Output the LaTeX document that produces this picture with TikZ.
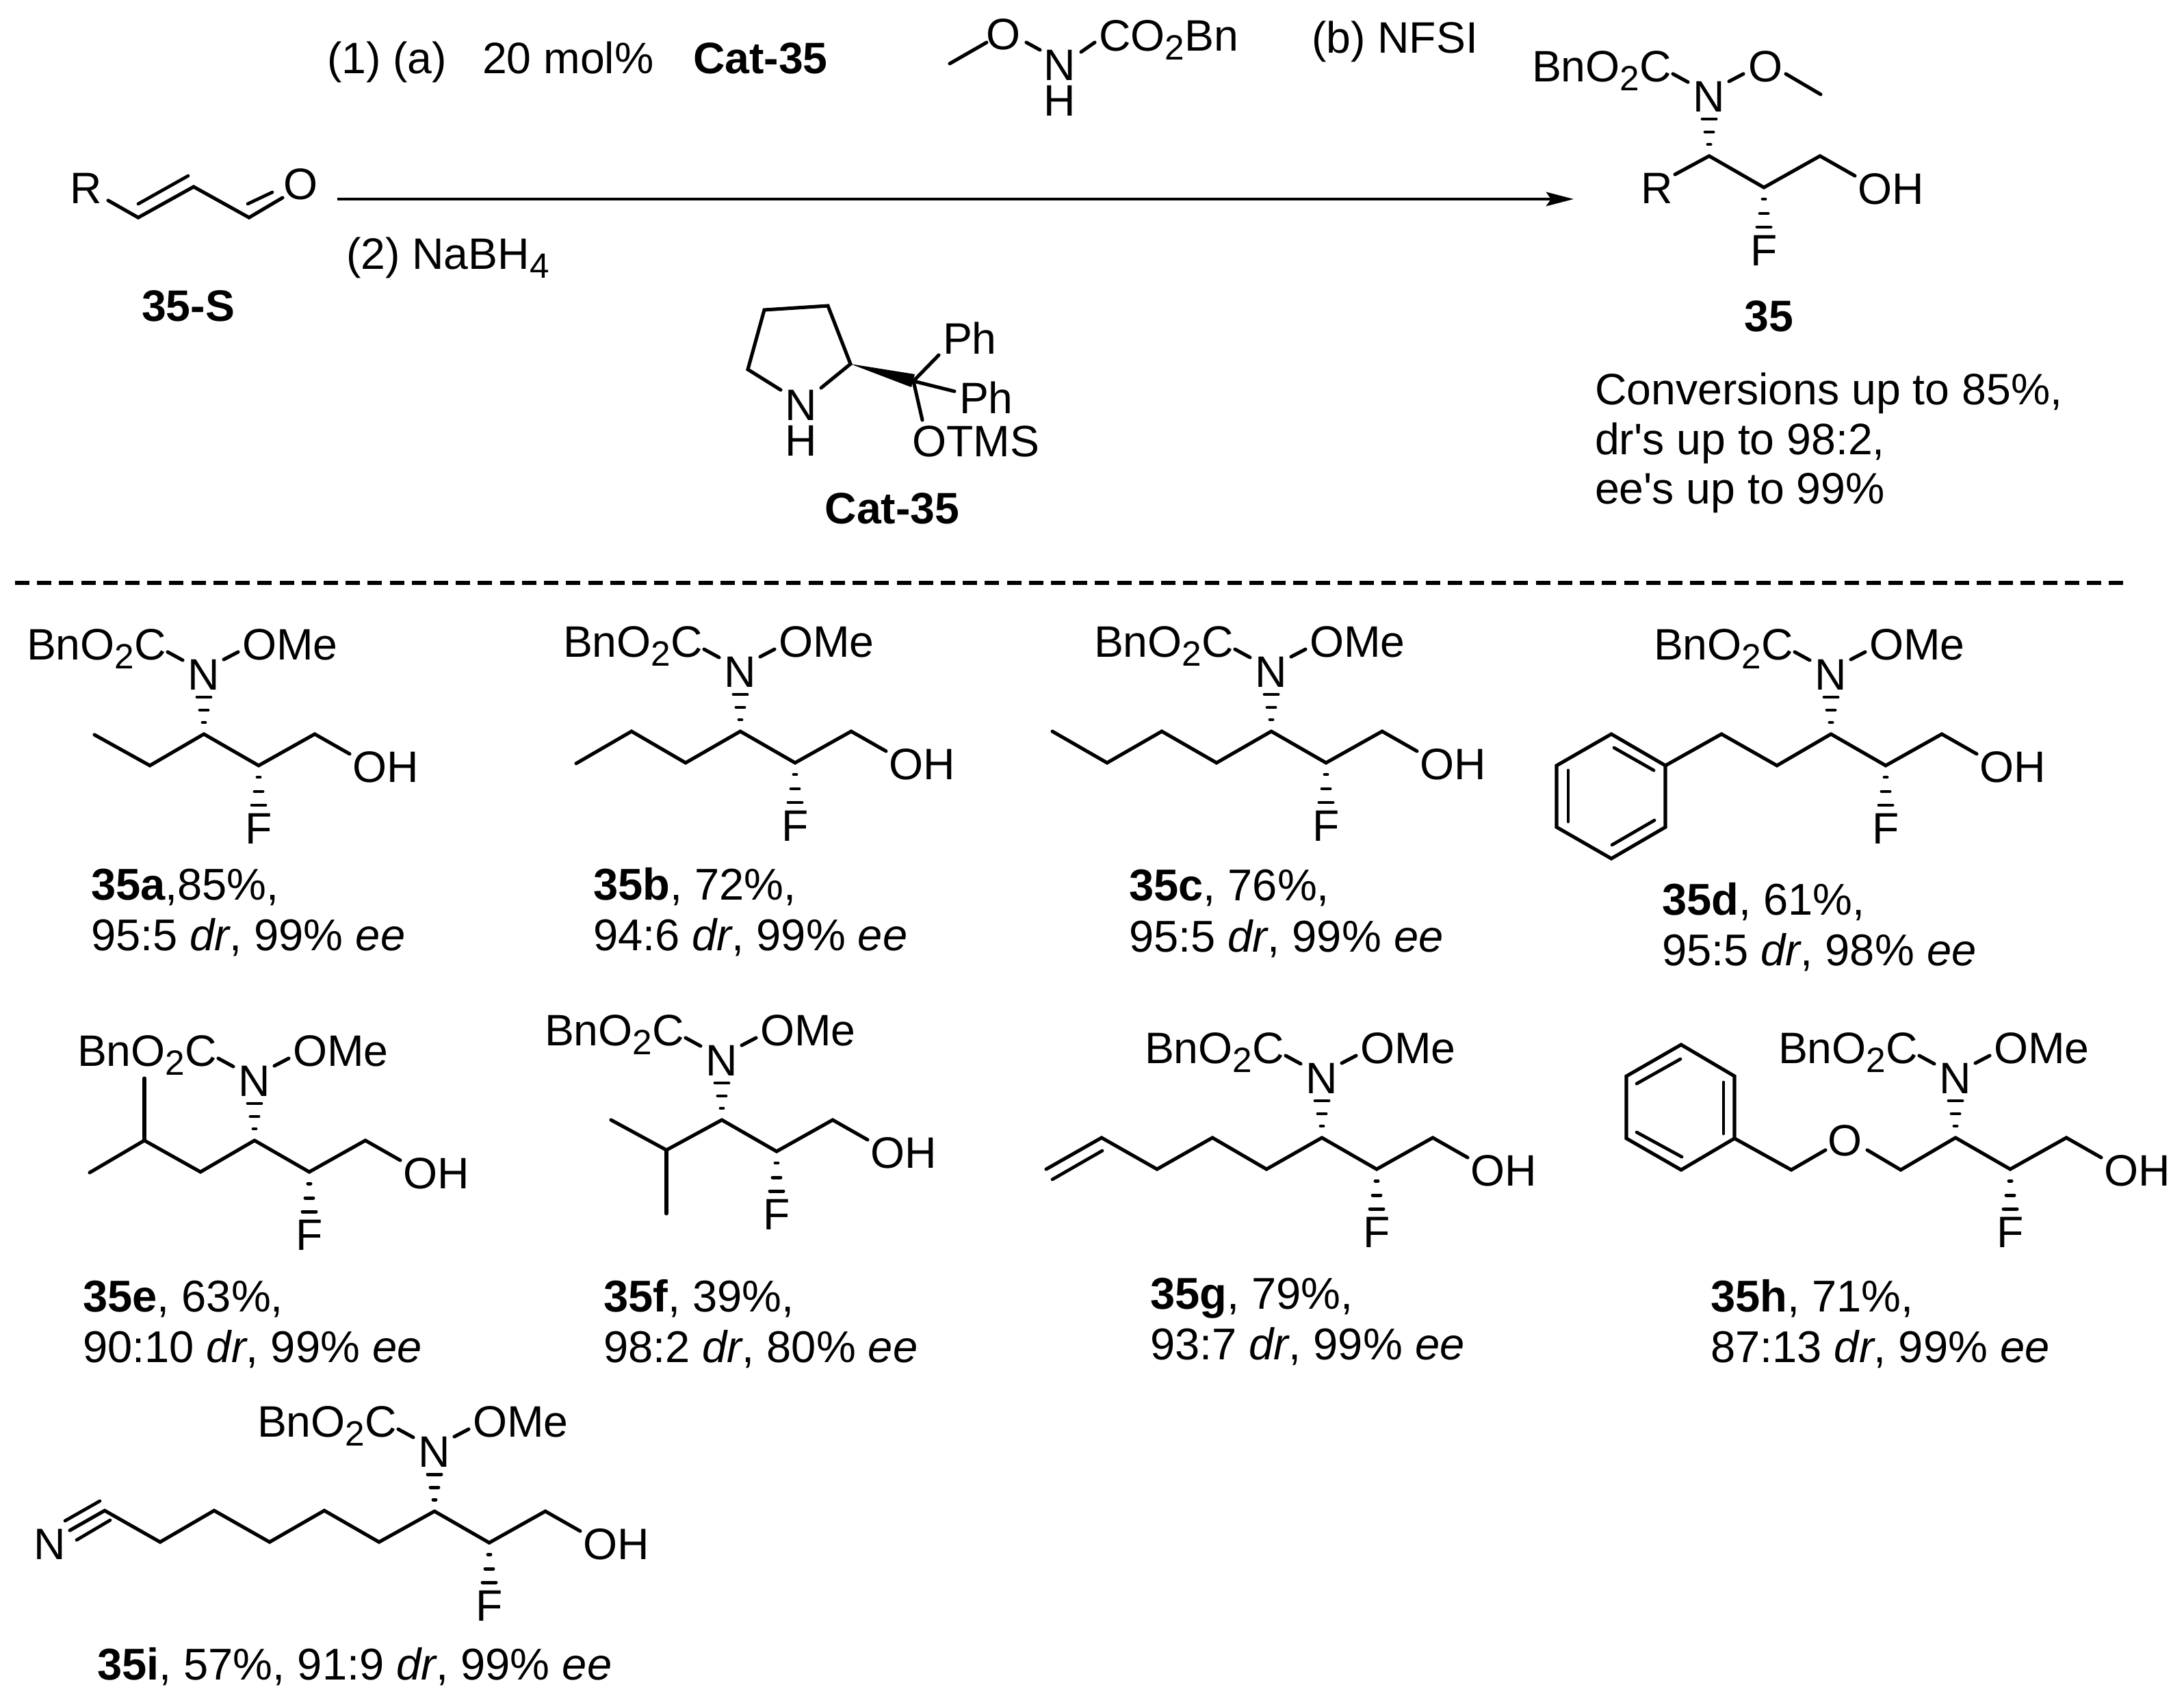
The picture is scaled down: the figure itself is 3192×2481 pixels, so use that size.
\documentclass[tikz,border=0pt]{standalone}
\usepackage{fontspec}
\setmainfont{Liberation Sans}
\newfontfamily\aposfont{Liberation Sans}
\usetikzlibrary{arrows.meta}
\newcommand{\subtwo}{\raisebox{-3.8pt}{\fontsize{14.6}{15}\selectfont 2}}
\newcommand{\apos}{{\aposfont '}}
\tikzset{
  bond/.style={draw=black,line width=1.45pt,line join=miter,line cap=round},
  inner/.style={draw=black,line width=1.35pt,line cap=round},
  lab/.style={font=\fontsize{18.3}{21}\selectfont,inner sep=0pt,outer sep=0pt,anchor=base west,text=black},
  atom/.style={font=\fontsize{18.3}{21}\selectfont,inner sep=0pt,outer sep=0pt,anchor=base,text=black},
  capt/.style={font=\fontsize{18.5}{21}\selectfont,inner sep=0pt,outer sep=0pt,anchor=base west,text=black},
  rung/.style={draw=black,line width=1.4pt,line cap=round}
}
% #1 prefix, #2 N x, #3 N y : the part common to every product
\newcommand{\backbone}[3]{%
  \begin{scope}[shift={(#2,#3)}]
    \node[atom] (#1N) at (0,22) {N};
    \node[lab] (#1bn) at (-259,-22) {BnO\subtwo C};
    \node[lab] (#1oh) at (217,157) {OH};
    \node[atom] (#1F) at (80,247) {F};
    \coordinate (#1cn) at (0,87);
    \coordinate (#1cf) at (80,133);
    \coordinate (#1ch) at (162,87);
    \coordinate (#1oe) at (213,116);
    \coordinate (#1a) at (-53,-33);
    \coordinate (#1b) at (-31,-21);
    \draw[bond] (#1a) -- (#1b);
    \draw[bond] (#1cn) -- (#1cf) -- (#1ch) -- (#1oe);
    \draw[rung] (-2,70) -- (2,70);
    \draw[rung] (-6,52) -- (6,52);
    \draw[rung] (-10,33) -- (10,33);
    \draw[rung] (78,150) -- (82,150);
    \draw[rung] (74,171) -- (86,171);
    \draw[rung] (70,191) -- (90,191);
  \end{scope}}
% adds the OMe group
\newcommand{\ome}[3]{%
  \begin{scope}[shift={(#2,#3)}]
    \node[lab] (#1om) at (56,-22) {OMe};
    \coordinate (#1c) at (29,-22);
    \coordinate (#1d) at (50,-33);
    \draw[bond] (#1c) -- (#1d);
  \end{scope}}
\begin{document}
\begin{tikzpicture}[x=0.01cm,y=-0.01cm]
\useasboundingbox (0,0) rectangle (3192,2481);

% ---- reaction conditions
\node[lab] (t1) at (478,107) {(1) (a)};
\node[lab] (t2) at (705,107) {20 mol\%};
\node[lab] (t3) at (1013,107) {\textbf{Cat-35}};
\node[lab] (t4) at (1917,77) {(b) NFSI};
\node[lab] (t5) at (506,393) {(2) NaBH\raisebox{-3.8pt}{\fontsize{14.6}{15}\selectfont 4}};

% ---- reagent
\node[atom] (rO) at (1467,72) {O};
\node[atom] (rN) at (1549,117) {N};
\node[atom] (rH) at (1549,169) {H};
\node[lab] (rC) at (1606,74) {CO\subtwo Bn};
\coordinate (r1) at (1388,93);
\coordinate (r2) at (1442,62);
\coordinate (r3) at (1500,62);
\coordinate (r4) at (1520,73);
\coordinate (r5) at (1580,76);
\coordinate (r6) at (1600,62);
\draw[bond] (r1) -- (r2);
\draw[bond] (r3) -- (r4);
\draw[bond] (r5) -- (r6);

% ---- substrate 35-S
\node[lab] (sR) at (102,297) {R};
\node[atom] (sO) at (440,291) {O};
\coordinate (s1) at (158,293);
\coordinate (s2) at (202,318);
\coordinate (s3) at (283,273);
\coordinate (s4) at (364,318);
\coordinate (s5) at (413,289);
\coordinate (s6) at (202,298);
\coordinate (s7) at (275,257);
\coordinate (s8) at (362,298);
\coordinate (s9) at (398,281);
\draw[bond] (s1) -- (s2) -- (s3) -- (s4) -- (s5);
\draw[inner] (s6) -- (s7);
\draw[inner] (s8) -- (s9);
\node[atom] (sL) at (275,469) {\textbf{35-S}};

% ---- arrow
\coordinate (aS) at (493,291);
\coordinate (aE) at (2300,291);
\draw[line width=1.4pt,-{Stealth[length=11.4pt,width=5.8pt,inset=2pt]}] (aS) -- (aE);

% ---- product 35
\backbone{p}{2498}{141}
\node[atom] (pO) at (2580,119) {O};
\coordinate (pc) at (2527,119);
\coordinate (pd) at (2548,108);
\coordinate (pe) at (2610,108);
\coordinate (pf) at (2661,138);
\draw[bond] (pc) -- (pd);
\draw[bond] (pe) -- (pf);
\node[lab] (pR) at (2398,297) {R};
\coordinate (pg) at (2448,255);
\draw[bond] (pg) -- (pcn);
\node[atom] (pL) at (2585,484) {\textbf{35}};
\node[lab] (c1) at (2331,591) {Conversions up to 85\%,};
\node[lab] (c2) at (2331,664) {dr\apos s up to 98:2,};
\node[lab] (c3) at (2331,736) {ee\apos s up to 99\%};

% ---- catalyst
\node[atom] (kN) at (1171,614) {N};
\node[atom] (kH) at (1171,666) {H};
\node[lab] (kP1) at (1378,517) {Ph};
\node[lab] (kP2) at (1402,604) {Ph};
\node[lab] (kO) at (1333,667) {OTMS};
\coordinate (k1) at (1141,570);
\coordinate (k2) at (1093,540);
\coordinate (k3) at (1117,453);
\coordinate (k4) at (1210,447);
\coordinate (k5) at (1243,532);
\coordinate (k6) at (1200,567);
\coordinate (kq) at (1335,557);
\coordinate (kw1) at (1337,547);
\coordinate (kw2) at (1332,566);
\coordinate (kb1) at (1372,519);
\coordinate (kb2) at (1395,572);
\coordinate (kb3) at (1348,614);
\draw[bond] (k1) -- (k2) -- (k3) -- (k4) -- (k5) -- (k6);
\fill[black] (k5) -- (kw1) -- (kw2) -- cycle;
\draw[bond] (kb1) -- (kq);
\draw[bond] (kb2) -- (kq);
\draw[bond] (kb3) -- (kq);
\node[atom] (kL) at (1304,765) {\textbf{Cat-35}};

% ---- divider
\coordinate (dS) at (22,852);
\coordinate (dE) at (3114,852);
\draw[line width=1.5pt,dash pattern=on 5.97pt off 3.19pt] (dS) -- (dE);

% ---- 35a
\backbone{a}{298}{986}\ome{am}{298}{986}
\coordinate (a1) at (138,1074);
\coordinate (a2) at (219,1119);
\draw[bond] (a1) -- (a2) -- (acn);
\node[capt] (aL1) at (133,1315) {\textbf{35a},85\%,};
\node[capt] (aL2) at (133,1389) {95:5 \textit{dr}, 99\% \textit{ee}};

% ---- 35b
\backbone{b}{1082}{982}\ome{bm}{1082}{982}
\coordinate (b1) at (842,1116);
\coordinate (b2) at (923,1069);
\coordinate (b3) at (1002,1115);
\draw[bond] (b1) -- (b2) -- (b3) -- (bcn);
\node[capt] (bL1) at (867,1315) {\textbf{35b}, 72\%,};
\node[capt] (bL2) at (867,1389) {94:6 \textit{dr}, 99\% \textit{ee}};

% ---- 35c
\backbone{c}{1858}{982}\ome{cm}{1858}{982}
\coordinate (c11) at (1538,1069);
\coordinate (c12) at (1618,1115);
\coordinate (c13) at (1698,1069);
\coordinate (c14) at (1778,1115);
\draw[bond] (c11) -- (c12) -- (c13) -- (c14) -- (ccn);
\node[capt] (cL1) at (1650,1316) {\textbf{35c}, 76\%,};
\node[capt] (cL2) at (1650,1391) {95:5 \textit{dr}, 99\% \textit{ee}};

% ---- 35d
\backbone{d}{2676}{986}\ome{dm}{2676}{986}
\coordinate (d1) at (2434,1119);
\coordinate (d2) at (2355,1073);
\coordinate (d3) at (2275,1119);
\coordinate (d4) at (2275,1209);
\coordinate (d5) at (2355,1255);
\coordinate (d6) at (2434,1209);
\coordinate (d7) at (2516,1073);
\coordinate (d8) at (2597,1119);
\coordinate (d9) at (2359,1093);
\coordinate (d10) at (2417,1126);
\coordinate (d11) at (2292,1126);
\coordinate (d12) at (2292,1201);
\coordinate (d13) at (2356,1235);
\coordinate (d14) at (2418,1199);
\draw[bond] (d1) -- (d2) -- (d3) -- (d4) -- (d5) -- (d6) -- cycle;
\draw[bond] (d1) -- (d7) -- (d8) -- (dcn);
\draw[inner] (d9) -- (d10);
\draw[inner] (d11) -- (d12);
\draw[inner] (d13) -- (d14);
\node[capt] (dL1) at (2429,1337) {\textbf{35d}, 61\%,};
\node[capt] (dL2) at (2429,1411) {95:5 \textit{dr}, 98\% \textit{ee}};

% ---- 35e
\backbone{e}{372}{1580}\ome{em}{372}{1580}
\coordinate (e1) at (131,1714);
\coordinate (e2) at (211,1667);
\coordinate (e3) at (293,1713);
\coordinate (e4) at (211,1576);
\draw[bond] (e1) -- (e2) -- (e3) -- (ecn);
\draw[bond] (e4) -- (e2);
\node[capt] (eL1) at (121,1917) {\textbf{35e}, 63\%,};
\node[capt] (eL2) at (121,1991) {90:10 \textit{dr}, 99\% \textit{ee}};

% ---- 35f
\backbone{f}{1055}{1550}\ome{fm}{1055}{1550}
\coordinate (f1) at (893,1637);
\coordinate (f2) at (974,1681);
\coordinate (f3) at (974,1774);
\draw[bond] (f1) -- (f2) -- (fcn);
\draw[bond] (f3) -- (f2);
\node[capt] (fL1) at (882,1917) {\textbf{35f}, 39\%,};
\node[capt] (fL2) at (882,1991) {98:2 \textit{dr}, 80\% \textit{ee}};

% ---- 35g
\backbone{g}{1932}{1576}\ome{gm}{1932}{1576}
\coordinate (g0) at (1529,1709);
\coordinate (g1) at (1610,1663);
\coordinate (g2) at (1691,1709);
\coordinate (g3) at (1772,1663);
\coordinate (g4) at (1851,1709);
\coordinate (g5) at (1538,1724);
\coordinate (g6) at (1611,1682);
\draw[bond] (g0) -- (g1) -- (g2) -- (g3) -- (g4) -- (gcn);
\draw[inner] (g5) -- (g6);
\node[capt] (gL1) at (1681,1913) {\textbf{35g}, 79\%,};
\node[capt] (gL2) at (1681,1987) {93:7 \textit{dr}, 99\% \textit{ee}};

% ---- 35h
\backbone{h}{2858}{1576}\ome{hm}{2858}{1576}
\node[atom] (hO) at (2696,1689) {O};
\coordinate (h1) at (2535,1664);
\coordinate (h2) at (2457,1710);
\coordinate (h3) at (2377,1664);
\coordinate (h4) at (2377,1573);
\coordinate (h5) at (2457,1527);
\coordinate (h6) at (2535,1573);
\coordinate (h7) at (2618,1710);
\coordinate (h8) at (2668,1681);
\coordinate (h9) at (2729,1681);
\coordinate (h10) at (2778,1710);
\coordinate (h11) at (2519,1582);
\coordinate (h12) at (2519,1657);
\coordinate (h13) at (2392,1584);
\coordinate (h14) at (2456,1548);
\coordinate (h15) at (2392,1655);
\coordinate (h16) at (2458,1691);
\draw[bond] (h1) -- (h2) -- (h3) -- (h4) -- (h5) -- (h6) -- cycle;
\draw[bond] (h1) -- (h7) -- (h8);
\draw[bond] (h9) -- (h10) -- (hcn);
\draw[inner] (h11) -- (h12);
\draw[inner] (h13) -- (h14);
\draw[inner] (h15) -- (h16);
\node[capt] (hL1) at (2500,1917) {\textbf{35h}, 71\%,};
\node[capt] (hL2) at (2500,1991) {87:13 \textit{dr}, 99\% \textit{ee}};

% ---- 35i
\backbone{i}{635}{2122}\ome{im}{635}{2122}
\node[atom] (iN0) at (73,2279) {N};
\coordinate (i1) at (102,2237);
\coordinate (i2) at (153,2208);
\coordinate (i3) at (234,2254);
\coordinate (i4) at (313,2208);
\coordinate (i5) at (394,2254);
\coordinate (i6) at (474,2208);
\coordinate (i7) at (554,2254);
\coordinate (i8) at (95,2223);
\coordinate (i9) at (146,2194);
\coordinate (i10) at (112,2251);
\coordinate (i11) at (161,2222);
\draw[bond] (i1) -- (i2) -- (i3) -- (i4) -- (i5) -- (i6) -- (i7) -- (icn);
\draw[inner] (i8) -- (i9);
\draw[inner] (i10) -- (i11);
\node[capt] (iL) at (142,2455) {\textbf{35i}, 57\%, 91:9 \textit{dr}, 99\% \textit{ee}};
\end{tikzpicture}
\end{document}
